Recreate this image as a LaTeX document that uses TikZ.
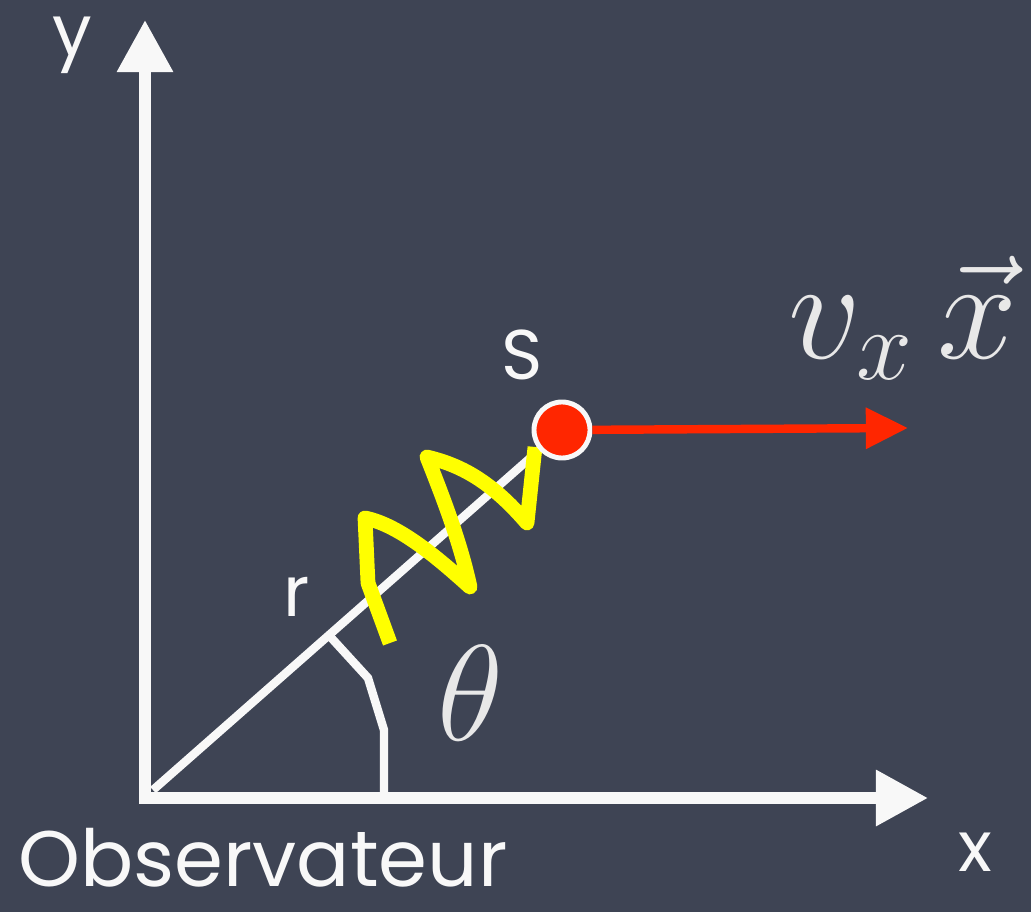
\RequirePackage{fix-cm}
\documentclass[tikz,border=0pt]{standalone}
\usepackage{fontspec}
\setmainfont{Poppins}
\usetikzlibrary{arrows.meta,calc}
\definecolor{board}{RGB}{62,68,84}
\definecolor{chalk}{RGB}{248,248,248}
\definecolor{mathchalk}{RGB}{232,232,232}
\definecolor{srcred}{RGB}{255,38,0}
\definecolor{wave}{RGB}{255,255,0}

\begin{document}
\begin{tikzpicture}[
  x=0.025cm, y=-0.025cm,
  axis/.style={draw=chalk, line width=8pt,
               {Triangle[length=37pt,width=38pt]}-{Triangle[length=37pt,width=38pt]}},
  ray/.style={draw=chalk, line width=6pt},
  anglemark/.style={draw=chalk, line width=6pt},
  srcdot/.style={circle, draw=chalk, fill=srcred, line width=3.5pt,
                 minimum size=1.4cm, inner sep=0pt},
  velocity/.style={draw=srcred, line width=6pt, -{Triangle[length=30pt,width=28pt]}},
  photon/.style={draw=wave, line width=10.5pt, line join=round},
  chalklabel/.style={text=chalk, font=\fontsize{50}{60}\selectfont, inner sep=0pt},
  mathlabel/.style={text=mathchalk, inner sep=0pt},
]
  % Board
  \fill[board] (0,0) rectangle (1031,912);
  \useasboundingbox (0,0) rectangle (1031,912);

  % Axes
  \coordinate (ytip) at (145,20);
  \coordinate (corner) at (145,798);
  \coordinate (xtip) at (928,798);
  \coordinate (O) at (153,790);
  \coordinate (src) at (562,430);
  \coordinate (vtip) at (908,428);
  \draw[axis] (ytip) -- (corner) -- (xtip);

  % Line of sight
  \draw[ray] (O) -- (src);

  % Angle
  \draw[anglemark] ($(O)!0.43!(src)$) -- (368,678) -- (384,730) -- (384,798);

  % Emitted wave
  \draw[photon] (390,643) -- (368,583) -- (365,518)
    .. controls (400,525) and (440,560) .. (470,587)
    .. controls (460,540) and (440,490) .. (427,457)
    .. controls (460,465) and (490,480) .. (527,523) -- (535,447);

  % Source and velocity
  \node[srcdot] (S) at (src) {};
  \draw[velocity] (S) -- (vtip);

  % Labels
  \node[chalklabel] (ylbl) at (72,45) {y};
  \node[chalklabel] (xlbl) at (975,852) {x};
  \node[chalklabel] (slbl) at (522,355) {S};
  \node[chalklabel] (rlbl) at (297,597) {r};
  \node[chalklabel, anchor=base west, text depth=0pt, font=\fontsize{56}{60}\selectfont] (obs) at (18,886) {Observateur};
  \node[mathlabel, font=\fontsize{97}{100}\selectfont] (theta) at (470,693) {$\theta$};
  \node[mathlabel, font=\fontsize{102}{110}\selectfont] (vel) at (903,318) {$v_x\,\vec{x}$};
\end{tikzpicture}
\end{document}
